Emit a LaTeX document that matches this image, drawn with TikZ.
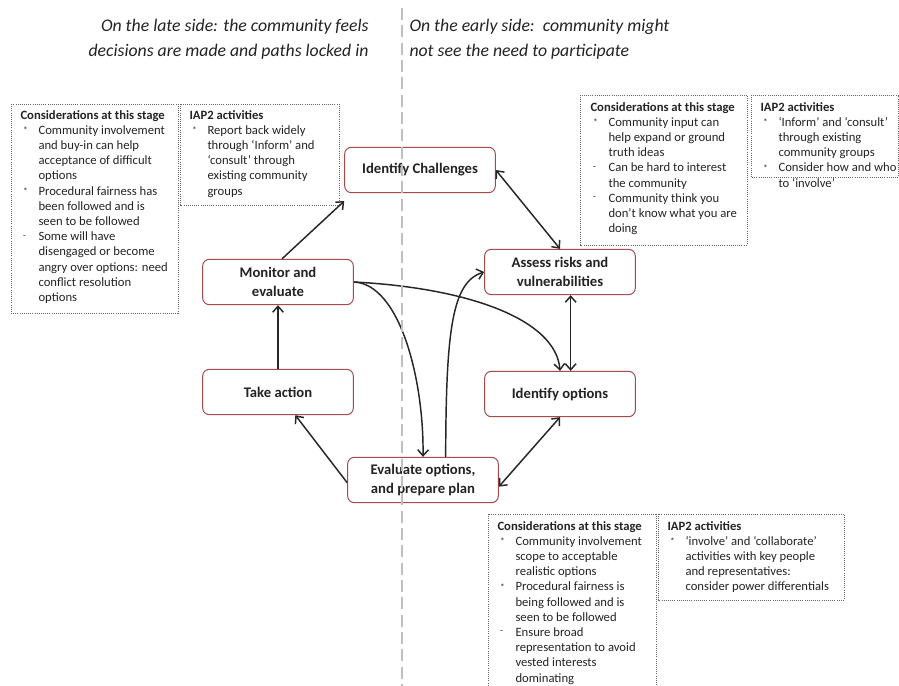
\documentclass[tikz,border=0pt]{standalone}
\usepackage{fontspec}
\setmainfont{Carlito}
\usetikzlibrary{arrows.meta}
\tikzset{every picture/.style={line width=0.75pt}}
\definecolor{stagered}{RGB}{165,75,75}
\definecolor{inkgray}{RGB}{35,35,35}
\newcommand{\plusmark}{\hspace*{2pt}\raisebox{0.15ex}{\scriptsize *}}
\newcommand{\minusmark}{\hspace*{2pt}\raisebox{0.45ex}{\scriptsize -}}
\tikzset{
  stage/.style={draw=stagered, rounded corners=5pt, fill=white, minimum width=113pt, minimum height=34pt, align=center, inner sep=2pt, text=inkgray, font=\fontsize{11}{14}\selectfont\bfseries},
  note/.style={draw=black!60, densely dotted, line width=0.6pt},
  notetext/.style={anchor=north west, inner sep=0pt, text=inkgray, font=\fontsize{9.5}{11.4}\selectfont},
  link/.style={-{Straight Barb[length=4.5pt,width=8pt]}, line width=1.1pt, black!85},
  twoway/.style={{Straight Barb[length=4.5pt,width=8pt]}-{Straight Barb[length=4.5pt,width=8pt]}, line width=1.1pt, black!85},
  divider/.style={draw=black!25, line width=1.8pt, dash pattern=on 9pt off 4pt},
  heading/.style={inner sep=0pt, text=inkgray, font=\fontsize{13.3}{18.5}\selectfont\itshape}
}

\begin{document}
\begin{tikzpicture}[x=0.75pt,y=0.75pt,yscale=-1,xscale=1]
\useasboundingbox (0,0) rectangle (899,685);

% side headings
\node[heading, anchor=east, align=right] (lateside) at (369,39) {On the late side: the community feels\\decisions are made and paths locked in};
\node[heading, anchor=west, align=left] (earlyside) at (409,39) {On the early side:\ \ community might\\not see the need to participate};

% note boxes
\draw[note] (11,104) rectangle (178,313);
\draw[note] (180,104) rectangle (339,205);
\draw[note] (580,95) rectangle (747,245);
\draw[note] (751,95) rectangle (898.5,177);
\draw[note] (488,514) rectangle (656,700);
\draw[note] (658,514) rectangle (844,600);

\node[notetext] (consmonitor) at (20,108) {\begin{tabular}{@{}p{13.5pt}@{}l@{}}
\multicolumn{2}{@{}l@{}}{\bfseries Considerations at this stage}\\
\plusmark & Community involvement\\
 & and buy-in can help\\
 & acceptance of difficult\\
 & options\\
\plusmark & Procedural fairness has\\
 & been followed and is\\
 & seen to be followed\\
\minusmark & Some will have\\
 & disengaged or become\\
 & angry over options: need\\
 & conflict resolution\\
 & options
\end{tabular}};

\node[notetext] (iapmonitor) at (189,108) {\begin{tabular}{@{}p{13.5pt}@{}l@{}}
\multicolumn{2}{@{}l@{}}{\bfseries IAP2 activities}\\
\plusmark & Report back widely\\
 & through ‘Inform’ and\\
 & ‘consult’ through\\
 & existing community\\
 & groups
\end{tabular}};

\node[notetext] (consassess) at (590,100) {\begin{tabular}{@{}p{13.5pt}@{}l@{}}
\multicolumn{2}{@{}l@{}}{\bfseries Considerations at this stage}\\
\plusmark & Community input can\\
 & help expand or ground\\
 & truth ideas\\
\minusmark & Can be hard to interest\\
 & the community\\
\minusmark & Community think you\\
 & don’t know what you are\\
 & doing
\end{tabular}};

\node[notetext] (iapassess) at (760,100) {\begin{tabular}{@{}p{13.5pt}@{}l@{}}
\multicolumn{2}{@{}l@{}}{\bfseries IAP2 activities}\\
\plusmark & ‘Inform’ and ‘consult’\\
 & through existing\\
 & community groups\\
\plusmark & Consider how and who\\
 & to ‘involve’
\end{tabular}};

\node[notetext] (conseval) at (497,519) {\begin{tabular}{@{}p{13.5pt}@{}l@{}}
\multicolumn{2}{@{}l@{}}{\bfseries Considerations at this stage}\\
\plusmark & Community involvement\\
 & scope to acceptable\\
 & realistic options\\
\plusmark & Procedural fairness is\\
 & being followed and is\\
 & seen to be followed\\
\minusmark & Ensure broad\\
 & representation to avoid\\
 & vested interests\\
 & dominating
\end{tabular}};

\node[notetext] (iapeval) at (667,519) {\begin{tabular}{@{}p{13.5pt}@{}l@{}}
\multicolumn{2}{@{}l@{}}{\bfseries IAP2 activities}\\
\plusmark & ‘involve’ and ‘collaborate’\\
 & activities with key people\\
 & and representatives:\\
 & consider power differentials
\end{tabular}};

% cycle stages
\node[stage] (chal) at (420,170) {Identify Challenges};
\node[stage] (assess) at (560,272) {Assess risks and\\vulnerabilities};
\node[stage] (options) at (560,394) {Identify options};
\node[stage] (evalopt) at (423,480) {Evaluate options,\\and prepare plan};
\node[stage] (action) at (278,392) {Take action};
\node[stage] (monitor) at (278,282) {Monitor and\\evaluate};

% arrows round the cycle
\draw[link] ([xshift=3pt]monitor.north) -- ([yshift=6pt]chal.south west);
\draw[twoway] (chal.east) -- (assess.north);
\draw[twoway] ([xshift=8pt]assess.south) -- ([xshift=8pt]options.north);
\draw[twoway] (options.south) -- ([yshift=5pt]evalopt.east);
\draw[link] ([yshift=2pt]evalopt.west) -- ([xshift=13pt]action.south);
\draw[link] (action.north) -- (monitor.south);
% shortcuts
\draw[link] (monitor.east) .. controls (400,284) and (424,380) .. (evalopt.north);
\draw[link] (monitor.east) .. controls (470,288) and (556,320) .. (options.north);
\draw[link] ([xshift=17pt]evalopt.north) .. controls (446,330) and (452,282) .. (assess.west);

% late / early divider
\draw[divider] (402,8) -- (402,690);
\end{tikzpicture}
\end{document}
